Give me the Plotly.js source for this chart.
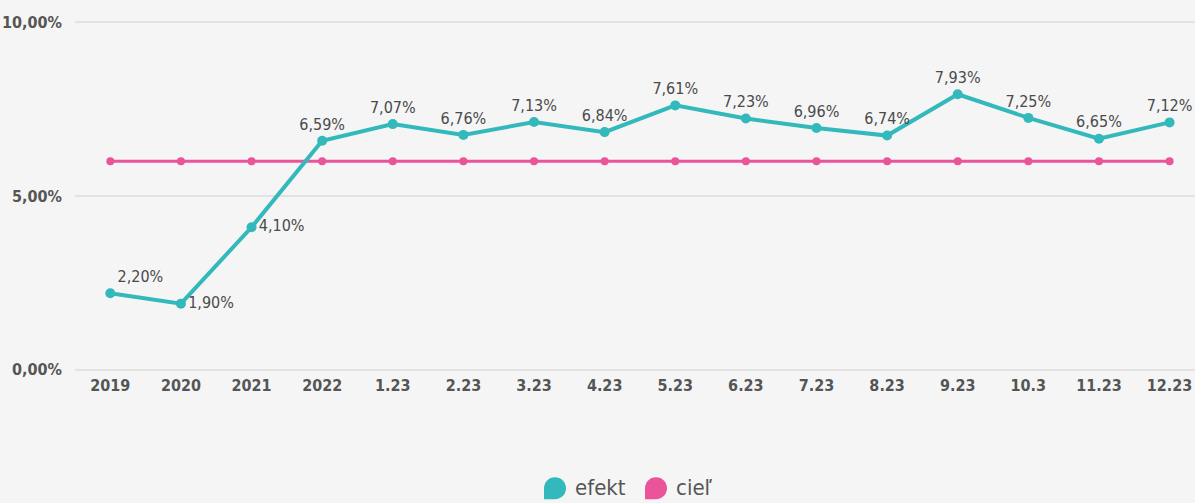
<!DOCTYPE html>
<html><head><meta charset="utf-8">
<script src="https://cdn.plot.ly/plotly-3.0.1.min.js"></script>
<style>html,body{margin:0;padding:0;background:#f5f5f5;}#chart{width:1195px;height:503px;}</style>
</head><body><div id="chart"></div>
<script>
const categories = ["2019","2020","2021","2022","1.23","2.23","3.23","4.23","5.23","6.23","7.23","8.23","9.23","10.3","11.23","12.23"];
const efekt = [2.20,1.90,4.10,6.59,7.07,6.76,7.13,6.84,7.61,7.23,6.96,6.74,7.93,7.25,6.65,7.12];
const ciel = [6,6,6,6,6,6,6,6,6,6,6,6,6,6,6,6];
const seriesNames = ["efekt","cieľ"];
const colors = ["#33b9bb","#e9549a"];
const yTicks = [0,5,10];

const FONT = "DejaVu Sans Condensed, Liberation Sans Narrow, sans-serif";
const fmt = v => v.toFixed(2).replace('.', ',') + '%';
const positions = categories.map((c,i)=> i===0 ? 'top right' : (i===1||i===2) ? 'middle right' : 'top center');

const traces = [
  {x: categories, y: ciel, type:'scatter', mode:'lines+markers', name: seriesNames[1],
   line:{color:colors[1], width:3}, marker:{color:colors[1], size:8}, showlegend:false, hoverinfo:'skip'},
  {x: categories, y: efekt, type:'scatter', mode:'lines+markers+text', name: seriesNames[0],
   line:{color:colors[0], width:4}, marker:{color:colors[0], size:10},
   text: efekt.map(fmt), textposition: positions, cliponaxis:false,
   textfont:{family:FONT, size:16, color:'#4a4a4a'}, showlegend:false, hoverinfo:'skip'}
];

// pixel geometry
const L = 75, PW = 1120;
const Y0 = 370, PXPER = 34.8, PAD = 0.04;
const yTopPx = Y0 - (10 + PAD) * PXPER;
const yBotPx = Y0 + PAD * PXPER;
const PH = yBotPx - yTopPx;
const px = x => (x - L) / PW;
const py = y => (yBotPx - y) / PH;
function drop(cx, cy, r){
  const k = 0.5523*r;
  const P = (x,y)=> px(x)+','+py(y);
  return 'M'+P(cx-r,cy+r)+' L'+P(cx-r,cy)+
    ' C'+P(cx-r,cy-k)+' '+P(cx-k,cy-r)+' '+P(cx,cy-r)+
    ' C'+P(cx+k,cy-r)+' '+P(cx+r,cy-k)+' '+P(cx+r,cy)+
    ' C'+P(cx+r,cy+k)+' '+P(cx+k,cy+r)+' '+P(cx,cy+r)+' Z';
}
const legendX = [555, 656];
const shapes = seriesNames.map((n,i)=>({type:'path', xref:'paper', yref:'paper', path: drop(legendX[i], 489, 11),
  fillcolor: colors[i], line:{width:0}}));
const annotations = seriesNames.map((n,i)=>({xref:'paper', yref:'paper', x: px(legendX[i]+18), y: py(488),
  xanchor:'left', yanchor:'middle', text:n, showarrow:false, font:{family:FONT, size:22, color:'#555'}}));

const layout = {
  width:1195, height:503,
  margin:{l:L, r:0, t:yTopPx, b:503 - yBotPx},
  paper_bgcolor:'#f5f5f5', plot_bgcolor:'#f5f5f5',
  showlegend:false,
  xaxis:{type:'category', range:[-0.5,15.36], showgrid:false, zeroline:false, showline:false,
    tickfont:{family:FONT, size:16, color:'#555', weight:'bold'}, ticks:'', ticklabelstandoff:3, fixedrange:true},
  yaxis:{range:[-PAD,10+PAD], tickvals:yTicks, ticktext: yTicks.map(fmt), showgrid:true, gridcolor:'#e2e2e2', gridwidth:2,
    zeroline:false, showline:false, ticks:'', ticklabelstandoff:12,
    tickfont:{family:FONT, size:16, color:'#555', weight:'bold'}, fixedrange:true},
  shapes: shapes, annotations: annotations
};
Plotly.newPlot('chart', traces, layout, {displayModeBar:false, staticPlot:true});
</script></body></html>
